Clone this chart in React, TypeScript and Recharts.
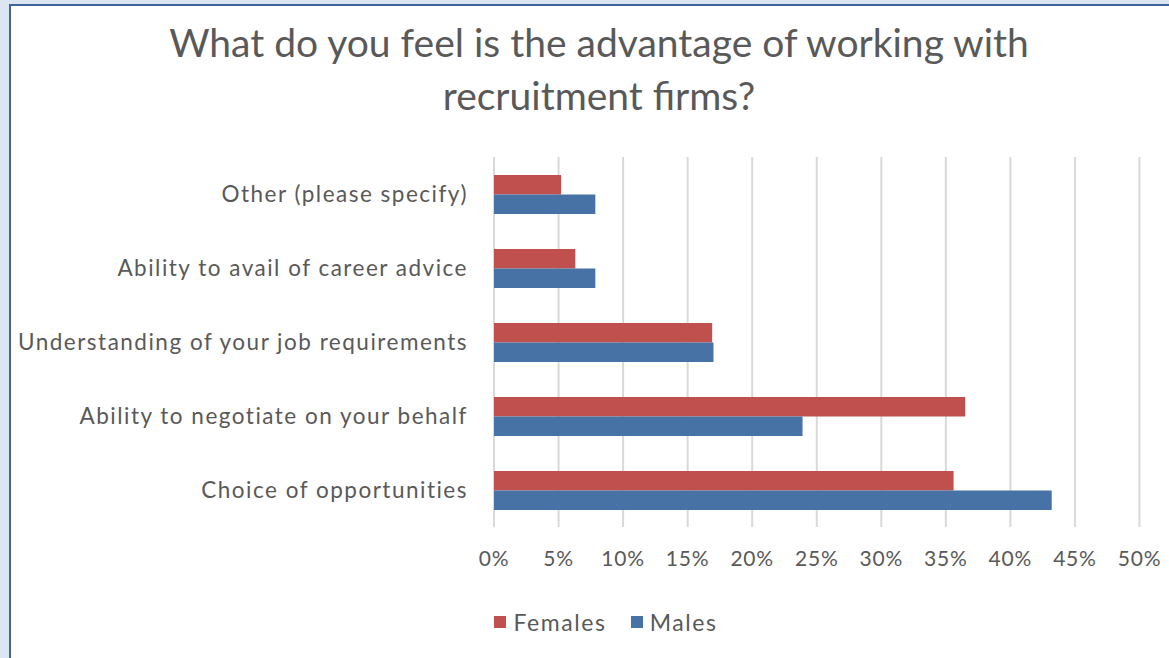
import React from 'react';
import { BarChart, Bar, XAxis, YAxis, CartesianGrid, Legend } from 'recharts';

const categories = [
  'Other (please specify)',
  'Ability to avail of career advice',
  'Understanding of your job requirements',
  'Ability to negotiate on your behalf',
  'Choice of opportunities',
];
const females = [5.2, 6.3, 16.9, 36.5, 35.6];
const males = [7.85, 7.85, 17.0, 23.9, 43.2];
const xTicks = [0, 5, 10, 15, 20, 25, 30, 35, 40, 45, 50];
const seriesNames = ['Females', 'Males'];
const seriesColors = ['#C0504D', '#4672A6'];

const data = categories.map((c, i) => ({ category: c, Females: females[i], Males: males[i] }));

const FONT = 'Lato, "Open Sans", sans-serif';
const TEXT = '#595959';

const renderLegend = (props: any) => {
  const payload = props.payload || [];
  return (
    <div style={{ display: 'flex', justifyContent: 'center', alignItems: 'center', fontFamily: FONT, fontSize: 23, letterSpacing: 1.6, color: TEXT }}>
      {payload.map((p: any, i: number) => (
        <div key={i} style={{ display: 'flex', alignItems: 'center', marginRight: i === 0 ? 24 : 0 }}>
          <span style={{ display: 'inline-block', width: 12, height: 12, background: p.color, marginRight: 7 }} />
          <span>{p.value}</span>
        </div>
      ))}
    </div>
  );
};

export default function App() {
  return (
    <div style={{ position: 'fixed', left: 0, top: 0, width: 1169, height: 658, background: '#DCE6F2', overflow: 'hidden' }}>
      <div style={{ position: 'absolute', left: 9, top: 4, width: 1180, height: 670, background: '#FFFFFF', borderTop: '2px solid #3F659A', borderLeft: '2px solid #3F659A' }} />
      <div style={{ position: 'absolute', left: 9, top: 16, width: 1180, textAlign: 'center', fontFamily: FONT, fontSize: 39, lineHeight: '53px', color: TEXT }}>
        What do you feel is the advantage of working with<br />recruitment firms?
      </div>
      <div style={{ position: 'absolute', left: 0, top: 0 }}>
        <BarChart
          width={1169}
          height={658}
          data={data}
          layout="vertical"
          margin={{ top: 157, right: 29.5, left: 0, bottom: 53 }}
          barSize={19.5}
          barGap={0}
        >
          <CartesianGrid horizontal={false} stroke="#D9D9D9" strokeWidth={2} />
          <XAxis
            type="number"
            domain={[0, 50]}
            ticks={xTicks}
            tickFormatter={(v: number) => `${v}%`}
            axisLine={false}
            tickLine={false}
            tickMargin={18}
            height={50}
            interval={0}
            tick={{ fill: TEXT, fontSize: 21, fontFamily: FONT, letterSpacing: 0.8 }}
          />
          <YAxis
            type="category"
            dataKey="category"
            width={494}
            axisLine={false}
            tickLine={false}
            tickMargin={20}
            interval={0}
            tick={{ fill: TEXT, fontSize: 22.5, fontFamily: FONT, letterSpacing: 1.5 }}
          />
          <Legend
            verticalAlign="bottom"
            content={renderLegend}
            wrapperStyle={{ left: 16, width: 1180, bottom: 22 }}
          />
          <Bar dataKey="Females" name={seriesNames[0]} fill={seriesColors[0]} isAnimationActive={false} />
          <Bar dataKey="Males" name={seriesNames[1]} fill={seriesColors[1]} isAnimationActive={false} />
        </BarChart>
      </div>
    </div>
  );
}
